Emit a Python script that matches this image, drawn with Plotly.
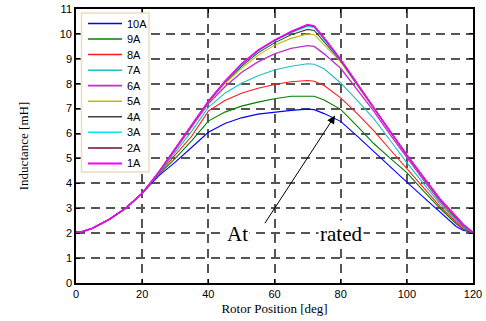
import plotly.graph_objects as go

rotor_deg = [0, 2, 5, 10, 15, 20, 25, 30, 35, 40, 45, 50, 55, 60, 65, 70, 72, 75,
             80, 85, 90, 95, 100, 105, 110, 115, 117, 120]

common_start = [2.05, 2.07, 2.2, 2.55, 3.0, 3.6]

L_1A = common_start + [4.45, 5.4, 6.35, 7.3, 8.1, 8.8, 9.35, 9.75, 10.1, 10.38, 10.32, 9.85, 8.98, 8.0, 7.05, 6.08, 5.14, 4.25, 3.38, 2.66, 2.36, 2.03]
L_2A = common_start + [4.45, 5.4, 6.34, 7.29, 8.09, 8.78, 9.33, 9.74, 10.08, 10.35, 10.3, 9.82, 8.97, 7.99, 7.04, 6.07, 5.13, 4.24, 3.37, 2.65, 2.35, 2.03]
L_3A = common_start + [4.44, 5.39, 6.33, 7.28, 8.07, 8.75, 9.3, 9.71, 10.05, 10.3, 10.26, 9.78, 8.95, 7.98, 7.03, 6.06, 5.12, 4.23, 3.35, 2.63, 2.33, 2.03]
L_4A = common_start + [4.44, 5.38, 6.32, 7.27, 8.05, 8.7, 9.24, 9.64, 9.97, 10.18, 10.14, 9.68, 8.92, 7.96, 7.02, 6.05, 5.11, 4.22, 3.33, 2.61, 2.31, 2.03]
L_5A = common_start + [4.43, 5.37, 6.3, 7.25, 8.0, 8.62, 9.14, 9.55, 9.82, 10.0, 9.97, 9.55, 8.88, 7.93, 7.0, 6.03, 5.1, 4.2, 3.31, 2.59, 2.29, 2.03]
L_6A = common_start + [4.42, 5.34, 6.27, 7.2, 7.88, 8.45, 8.88, 9.2, 9.42, 9.53, 9.5, 9.2, 8.62, 7.78, 6.9, 5.95, 5.03, 4.14, 3.27, 2.55, 2.26, 2.03]
L_7A = common_start + [4.4, 5.25, 6.1, 7.05, 7.62, 8.02, 8.32, 8.55, 8.7, 8.8, 8.78, 8.6, 8.03, 7.33, 6.6, 5.72, 4.83, 4.0, 3.18, 2.49, 2.22, 2.03]
L_8A = common_start + [4.38, 5.12, 5.9, 6.9, 7.33, 7.62, 7.82, 7.97, 8.08, 8.13, 8.1, 7.93, 7.43, 6.8, 6.12, 5.35, 4.59, 3.82, 3.08, 2.43, 2.19, 2.03]
L_9A = common_start + [4.35, 5.0, 5.72, 6.5, 6.86, 7.1, 7.26, 7.4, 7.5, 7.52, 7.5, 7.35, 6.97, 6.3, 5.6, 5.0, 4.43, 3.7, 3.0, 2.37, 2.16, 2.03]
L_10A = common_start + [4.3, 4.85, 5.45, 6.05, 6.4, 6.63, 6.78, 6.86, 6.93, 6.98, 6.96, 6.8, 6.49, 5.9, 5.27, 4.66, 4.05, 3.45, 2.85, 2.26, 2.12, 2.03]

series_names = ["10A", "9A", "8A", "7A", "6A", "5A", "4A", "3A", "2A", "1A"]
series_values = [L_10A, L_9A, L_8A, L_7A, L_6A, L_5A, L_4A, L_3A, L_2A, L_1A]
series_colors = ["#0000ff", "#008000", "#ff1a1a", "#1fbfbf", "#c030c8", "#bfbf00",
                 "#404040", "#00e8e8", "#700a35", "#ff00ff"]
series_widths = [1.1, 1.1, 1.1, 1.1, 1.4, 1.1, 1.1, 1.1, 1.1, 1.5]

x_ticks = [0, 20, 40, 60, 80, 100, 120]
y_ticks = list(range(0, 12))

W, H = 486, 321
ML, MR, MT, MB = 76, 13, 9, 38
PW, PH = W - ML - MR, H - MT - MB


def px_x(p):
    return (p - ML) / PW


def px_y(p):
    return (H - MB - p) / PH


fig = go.Figure()
for name, vals, col, w in zip(series_names, series_values, series_colors, series_widths):
    fig.add_trace(go.Scatter(x=rotor_deg, y=vals, mode="lines", name=name,
                             line=dict(color=col, width=w), showlegend=False))

serif = "Liberation Serif, Times New Roman, serif"
sans = "Liberation Sans, Arial, sans-serif"

axis_common = dict(
    showgrid=True, gridcolor="#555555", gridwidth=1.5, griddash="9px,6px",
    showline=True, linecolor="black", linewidth=1.6, mirror="ticks",
    ticks="inside", ticklen=4, tickcolor="black", automargin=False,
    zeroline=False, tickfont=dict(family=sans, size=11, color="black"),
)

fig.update_layout(
    width=W, height=H,
    margin=dict(l=ML, r=MR, t=MT, b=MB, autoexpand=False),
    paper_bgcolor="white", plot_bgcolor="white",
    xaxis=dict(range=[0, 120], tickvals=x_ticks, **axis_common,
               title=dict(text="Rotor Position [deg]", font=dict(family=serif, size=13, color="black"), standoff=5)),
    yaxis=dict(range=[0, 11], tickvals=y_ticks, **axis_common,
               title=dict(text="Inductance [mH]", font=dict(family=serif, size=13, color="black"), standoff=28)),
    showlegend=False,
)

# legend box (drawn manually to match the compact entry spacing)
fig.add_shape(type="rect", xref="paper", yref="paper",
              x0=px_x(81.5), x1=px_x(149), y0=px_y(172), y1=px_y(13),
              fillcolor="white", line=dict(color="#eedcc0", width=1.5), layer="above")
for i, (name, col, w) in enumerate(zip(series_names, series_colors, series_widths)):
    yy = 23.5 + 15.55 * i
    fig.add_shape(type="line", xref="paper", yref="paper",
                  x0=px_x(88), x1=px_x(122), y0=px_y(yy), y1=px_y(yy),
                  line=dict(color=col, width=w + 0.4), layer="above")
    fig.add_annotation(xref="paper", yref="paper", x=px_x(125), y=px_y(yy),
                       xanchor="left", yanchor="middle", text=name, showarrow=False,
                       font=dict(family=sans, size=11, color="black"))

fig.add_annotation(x=48.7, y=1.98, text="At", showarrow=False, bgcolor="white",
                   font=dict(family=serif, size=21, color="black"))
fig.add_annotation(x=80.0, y=1.98, text="rated", showarrow=False, bgcolor="white",
                   font=dict(family=serif, size=21, color="black"))
fig.add_annotation(x=78.3, y=6.72, ax=56.8, ay=2.34, axref="x", ayref="y",
                   xref="x", yref="y", text="", showarrow=True,
                   arrowhead=2, arrowsize=1.6, arrowwidth=1, arrowcolor="black")

fig.write_html("out.html", config={"displayModeBar": False},
               post_script="document.body.style.margin='0px';")
